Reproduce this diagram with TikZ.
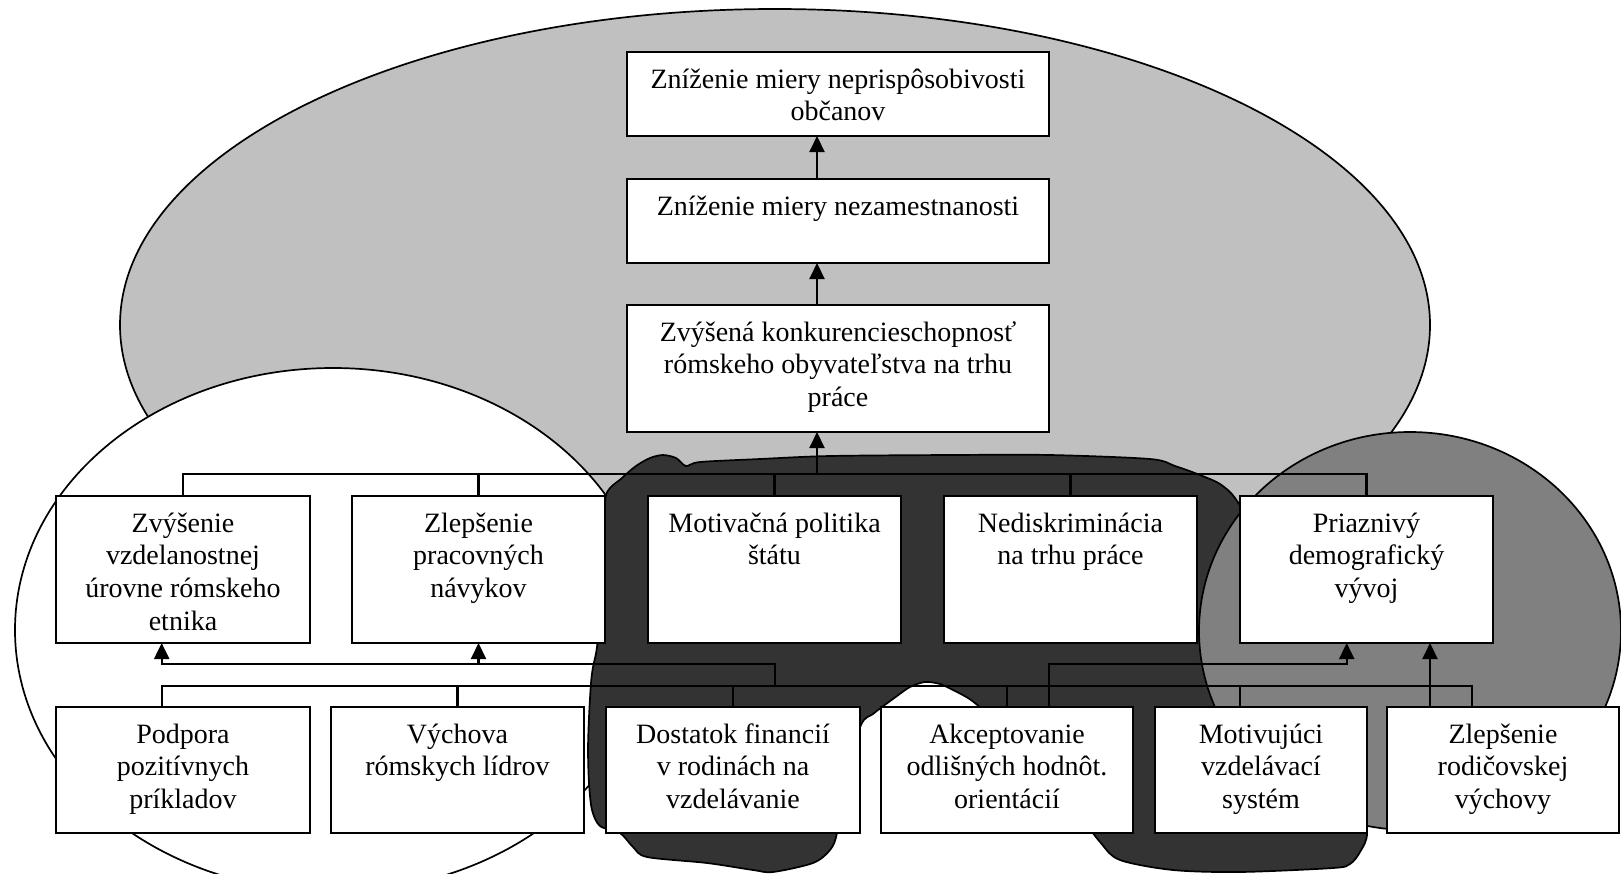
\documentclass[tikz,border=0pt]{standalone}
\usepackage{fontspec}
\setmainfont{Liberation Serif}
\usetikzlibrary{arrows.meta}
\definecolor{lightfill}{HTML}{C0C0C0}
\definecolor{midfill}{HTML}{808080}
\definecolor{darkfill}{HTML}{333333}
% box content: width, height, text (first baseline 36pt below the top edge)
\newcommand\boxtext[3]{\parbox[c][#2pt][t]{#1pt}{\centering\rule{0pt}{36pt}#3}}
\begin{document}
\begin{tikzpicture}[x=1pt,y=-1pt,
  box/.style={draw, fill=white, line width=2pt, inner sep=0pt, outer sep=0pt,
    anchor=north west, font=\fontsize{28}{32.7}\selectfont},
  conn/.style={line width=2.1pt},
  arr/.style={conn, -{Triangle[width=15pt,length=16pt]}},
  blob/.style={draw, line width=1.7pt}]
\useasboundingbox (0,0) rectangle (1621,873);
\begin{scope}
\clip (0,0) rectangle (1621,873);
% background regions
\draw[blob, fill=lightfill] (775,325) ellipse [x radius=655, y radius=316];
\draw[blob, fill=white] (333,630) ellipse [x radius=318, y radius=262];
\draw[blob, fill=darkfill] plot[smooth cycle, tension=0.5] coordinates {
  (606,495) (622,478) (636,466) (650,458) (663,455) (676,458) (686,466)
  (700,462) (760,459) (830,456) (950,455) (1050,455) (1150,459) (1175,466)
  (1200,475) (1220,484) (1235,498) (1248,525) (1275,620) (1310,740)
  (1358,792) (1367,833) (1360,852) (1350,864) (1333,868) (1240,872)
  (1173,870) (1120,860) (1100,842) (1060,790) (1010,730) (980,707)
  (968,698) (953,690) (940,684) (925,682) (910,687) (897,696) (882,707)
  (873,714) (861,725) (845,780) (837,833) (830,850) (813,863) (773,872)
  (753,870) (707,863) (647,857) (633,847) (620,833) (600,826) (592,810)
  (589,783) (588,750) (589,717) (591,683) (593,667) (597,647) (601,600)
  (604,540)};
\draw[blob, fill=midfill] (1410,631) ellipse [x radius=211, y radius=199];
\end{scope}

% boxes
\node[box] (t1) at (627,52)  {\boxtext{422}{84}{Zníženie miery neprispôsobivosti\\občanov}};
\node[box] (t2) at (627,179) {\boxtext{422}{84}{Zníženie miery nezamestnanosti}};
\node[box] (t3) at (627,305) {\boxtext{422}{127}{Zvýšená konkurencieschopnosť\\rómskeho obyvateľstva na trhu\\práce}};

\node[box] (a) at (56,496)   {\boxtext{254}{147}{Zvýšenie\\vzdelanostnej\\úrovne rómskeho\\etnika}};
\node[box] (b) at (352,496)  {\boxtext{253}{147}{Zlepšenie\\pracovných\\návykov}};
\node[box] (c) at (648,496)  {\boxtext{253}{147}{Motivačná politika\\štátu}};
\node[box] (d) at (944,496)  {\boxtext{253}{147}{Nediskriminácia\\na trhu práce}};
\node[box] (e) at (1240,496) {\boxtext{253}{147}{Priaznivý\\demografický\\vývoj}};

\node[box] (f) at (56,707)   {\boxtext{254}{126}{Podpora\\pozitívnych\\príkladov}};
\node[box] (g) at (331,707)  {\boxtext{253}{126}{Výchova\\rómskych lídrov}};
\node[box] (h) at (606,707)  {\boxtext{254}{126}{Dostatok financií\\v rodinách na\\vzdelávanie}};
\node[box] (i) at (881,707)  {\boxtext{252}{126}{Akceptovanie\\odlišných hodnôt.\\orientácií}};
\node[box] (j) at (1155,707) {\boxtext{212}{126}{Motivujúci\\vzdelávací\\systém}};
\node[box] (k) at (1387,707) {\boxtext{232}{126}{Zlepšenie\\rodičovskej\\výchovy}};

% junction points
\coordinate (busup) at (817,474);
\coordinate (fdrop) at (161.7,686);
\coordinate (jdrop) at (1240,686);
\coordinate (kdrop) at (1472.3,686);
\coordinate (lbend) at (775,664);
\coordinate (aarr) at (161.7,664);
\coordinate (rbend) at (1049.3,664);
\coordinate (earr) at (1346.7,664);
\coordinate (kup) at (1430,686);

% upper chain
\draw[arr] (t2.north -| busup) -- (t1.south -| busup);
\draw[arr] (t3.north -| busup) -- (t2.south -| busup);
\draw[arr] (busup) -- (t3.south -| busup);

% upper bus into the middle row
\draw[conn] (a.north) -- (a.north |- busup) -- (e.north |- busup) -- (e.north);
\foreach \n in {b,c,d} \draw[conn] (\n.north) -- (\n.north |- busup);

% lower bus over the bottom row
\draw[conn] (fdrop |- f.north) -- (fdrop) -- (kdrop) -- (kdrop |- k.north);
\foreach \n in {g,h,i} \draw[conn] (\n.north) -- (\n.north |- fdrop);
\draw[conn] (jdrop) -- (jdrop |- j.north);

% arrows into the middle row
\draw[arr] (lbend |- fdrop) -- (lbend) -- (aarr) -- (aarr |- a.south);
\draw[arr] (b.south |- aarr) -- (b.south);
\draw[arr] (rbend |- i.north) -- (rbend) -- (earr) -- (earr |- e.south);
\draw[arr] (kup |- k.north) -- (kup |- e.south);
\end{tikzpicture}
\end{document}
